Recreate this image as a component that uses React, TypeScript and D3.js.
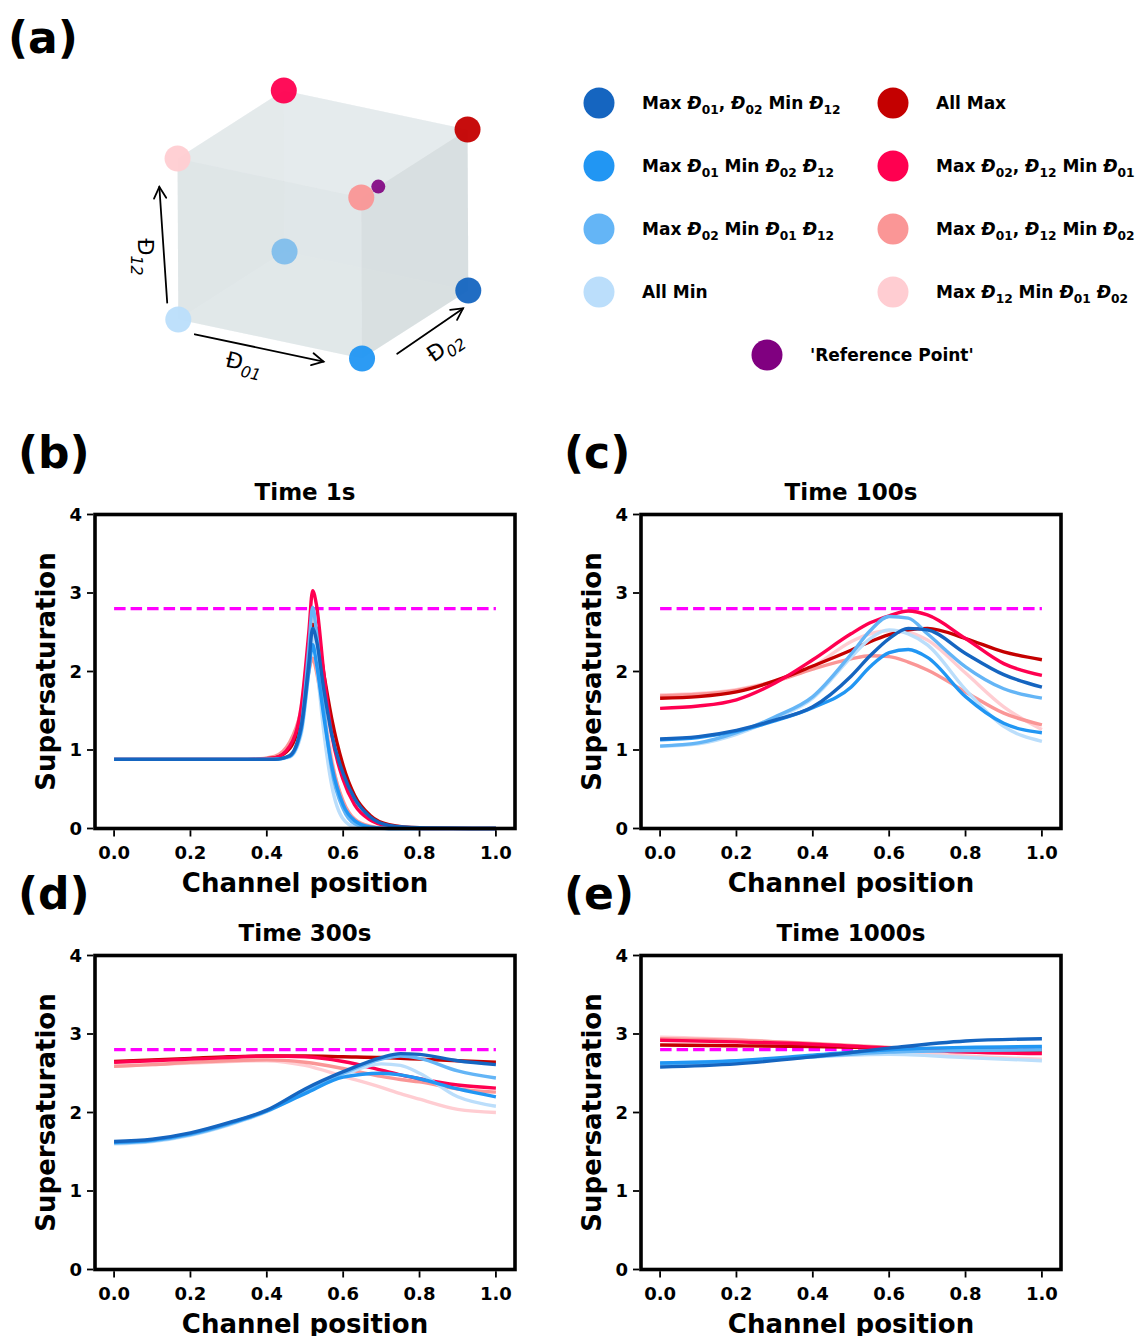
import React from 'react';
import * as d3 from 'd3';

const W = 1140;
const H = 1336;
const FONT = "'DejaVu Sans', sans-serif";

// legend labels, Đ_{nn} is drawn as Đ with subscript
const SERIES = [
  'Max Đ_{01}, Đ_{02} Min Đ_{12}',
  'Max Đ_{01} Min Đ_{02} Đ_{12}',
  'Max Đ_{02} Min Đ_{01} Đ_{12}',
  'All Min',
  'All Max',
  'Max Đ_{02}, Đ_{12} Min Đ_{01}',
  'Max Đ_{01}, Đ_{12} Min Đ_{02}',
  'Max Đ_{12} Min Đ_{01} Đ_{02}',
];
const COLORS = ['#1565C0', '#2196F3', '#64B5F6', '#BBDEFB', '#C40000', '#FF0050', '#FA9696', '#FFCDD2'];
// corner of the cube for each series: [Đ01, Đ02, Đ12]
const CORNERS = [[1, 1, 0], [1, 0, 0], [0, 1, 0], [0, 0, 0], [1, 1, 1], [0, 1, 1], [1, 0, 1], [0, 0, 1]];
const REF_POINT = [1, 0.16, 1];
const REF_LABEL = "'Reference Point'";
const THRESHOLD = 2.8;
// order the curves are drawn in (last on top)
const DRAW_ORDER = [7, 6, 4, 5, 3, 2, 1, 0];

// Time 1s
const X_1S = [0, 0.35, 0.42, 0.46, 0.49, 0.51, 0.52, 0.53, 0.55, 0.57, 0.6, 0.63, 0.67, 0.72, 0.8, 1.0];
const Y_1S = [
  [0.88, 0.88, 0.88, 0.93, 1.3, 2.1, 2.55, 2.4, 1.75, 1.2, 0.7, 0.38, 0.15, 0.04, 0.01, 0],
  [0.88, 0.88, 0.88, 0.92, 1.25, 2.0, 2.34, 2.1, 1.4, 0.8, 0.3, 0.1, 0.02, 0, 0, 0],
  [0.88, 0.88, 0.88, 0.92, 1.3, 2.3, 2.82, 2.5, 1.5, 0.75, 0.25, 0.06, 0.01, 0, 0, 0],
  [0.88, 0.88, 0.88, 0.91, 1.2, 2.0, 2.45, 2.1, 1.2, 0.55, 0.12, 0.02, 0, 0, 0, 0],
  [0.88, 0.88, 0.9, 1.02, 1.45, 2.2, 2.6, 2.55, 1.95, 1.4, 0.8, 0.42, 0.17, 0.05, 0.01, 0],
  [0.88, 0.88, 0.9, 1.05, 1.55, 2.5, 3.03, 2.85, 1.95, 1.2, 0.62, 0.3, 0.11, 0.03, 0, 0],
  [0.88, 0.88, 0.92, 1.1, 1.5, 2.0, 2.17, 2.0, 1.4, 0.85, 0.35, 0.12, 0.03, 0, 0, 0],
  [0.88, 0.88, 0.91, 1.08, 1.55, 2.35, 2.7, 2.45, 1.6, 0.9, 0.3, 0.08, 0.01, 0, 0, 0],
];

// Time 100s
const X_100S = [0, 0.1, 0.2, 0.3, 0.4, 0.5, 0.55, 0.6, 0.65, 0.7, 0.8, 0.9, 1.0];
const Y_100S = [
  [1.14, 1.17, 1.25, 1.38, 1.55, 1.94, 2.2, 2.42, 2.55, 2.53, 2.23, 1.96, 1.8],
  [1.13, 1.16, 1.24, 1.37, 1.54, 1.8, 2.06, 2.24, 2.28, 2.18, 1.68, 1.34, 1.22],
  [1.05, 1.09, 1.22, 1.42, 1.68, 2.22, 2.52, 2.7, 2.68, 2.48, 2.06, 1.78, 1.66],
  [1.05, 1.08, 1.2, 1.4, 1.66, 2.18, 2.42, 2.53, 2.48, 2.34, 1.77, 1.3, 1.11],
  [1.66, 1.68, 1.74, 1.88, 2.07, 2.27, 2.38, 2.47, 2.53, 2.55, 2.42, 2.25, 2.15],
  [1.53, 1.56, 1.64, 1.85, 2.15, 2.48, 2.62, 2.71, 2.77, 2.72, 2.42, 2.1, 1.95],
  [1.69, 1.71, 1.76, 1.87, 2.03, 2.16, 2.2, 2.19, 2.12, 2.02, 1.74, 1.47, 1.32],
  [1.7, 1.72, 1.77, 1.88, 2.06, 2.38, 2.48, 2.52, 2.5, 2.4, 1.98, 1.55, 1.26],
];

// Time 300s
const X_300S = [0, 0.1, 0.2, 0.3, 0.4, 0.5, 0.6, 0.7, 0.75, 0.8, 0.9, 1.0];
const Y_300S = [
  [1.63, 1.66, 1.74, 1.87, 2.03, 2.3, 2.52, 2.7, 2.75, 2.74, 2.66, 2.61],
  [1.62, 1.65, 1.73, 1.86, 2.02, 2.24, 2.45, 2.5, 2.48, 2.43, 2.3, 2.2],
  [1.61, 1.64, 1.72, 1.85, 2.02, 2.28, 2.5, 2.68, 2.72, 2.69, 2.53, 2.44],
  [1.6, 1.63, 1.71, 1.84, 2.01, 2.27, 2.48, 2.62, 2.6, 2.5, 2.2, 2.08],
  [2.65, 2.67, 2.69, 2.71, 2.72, 2.72, 2.71, 2.7, 2.69, 2.68, 2.66, 2.64],
  [2.64, 2.66, 2.68, 2.7, 2.72, 2.71, 2.65, 2.54, 2.48, 2.43, 2.35, 2.31],
  [2.59, 2.61, 2.64, 2.66, 2.67, 2.64, 2.56, 2.46, 2.42, 2.39, 2.3, 2.26],
  [2.59, 2.61, 2.63, 2.65, 2.66, 2.6, 2.46, 2.32, 2.24, 2.17, 2.04, 2.0],
];

// Time 1000s
const X_1000S = [0, 0.2, 0.4, 0.6, 0.8, 1.0];
const Y_1000S = [
  [2.58, 2.62, 2.71, 2.82, 2.91, 2.94],
  [2.63, 2.66, 2.73, 2.8, 2.83, 2.84],
  [2.62, 2.65, 2.71, 2.77, 2.79, 2.8],
  [2.63, 2.66, 2.71, 2.74, 2.7, 2.66],
  [2.86, 2.85, 2.84, 2.82, 2.8, 2.79],
  [2.92, 2.9, 2.87, 2.82, 2.77, 2.75],
  [2.94, 2.92, 2.88, 2.83, 2.8, 2.79],
  [2.96, 2.93, 2.87, 2.8, 2.72, 2.68],
];

const X_TICKS = [0, 0.2, 0.4, 0.6, 0.8, 1.0];
const Y_TICKS = [0, 1, 2, 3, 4];

const PANELS = [
  { label: '(b)', title: 'Time 1s', xs: X_1S, ys: Y_1S, left: 95, top: 514.5 },
  { label: '(c)', title: 'Time 100s', xs: X_100S, ys: Y_100S, left: 641, top: 514.5 },
  { label: '(d)', title: 'Time 300s', xs: X_300S, ys: Y_300S, left: 95, top: 955.5 },
  { label: '(e)', title: 'Time 1000s', xs: X_1000S, ys: Y_1000S, left: 641, top: 955.5 },
];
const PW = 420;
const PH = 314;

// text with Đ_{nn} subscripts
function MathText({ text, size, italicSymbol, italicSub, ...rest }: any) {
  const parts = text.split(/(Đ_\{\d+\})/).filter((p: string) => p.length);
  const shift = size * 0.28;
  const nodes: any[] = [];
  let shifted = false;
  parts.forEach((p: string, i: number) => {
    const m = p.match(/^Đ_\{(\d+)\}$/);
    if (m) {
      nodes.push(
        <tspan key={i + 'a'} dy={shifted ? -shift : 0} fontStyle={italicSymbol ? 'italic' : 'normal'}>Đ</tspan>
      );
      nodes.push(
        <tspan key={i + 'b'} dy={shift} fontSize={size * 0.72} fontStyle={italicSub ? 'italic' : 'normal'}>{m[1]}</tspan>
      );
      shifted = true;
    } else {
      nodes.push(<tspan key={i} dy={shifted ? -shift : 0}>{p}</tspan>);
      shifted = false;
    }
  });
  return (
    <text fontSize={size} fontFamily={FONT} style={{ whiteSpace: 'pre' }} {...rest}>
      {nodes}
    </text>
  );
}

// ---- cube (panel a) ----
const ORIGIN = [178.3, 319.5];
const EX = [183.75, 39];
const EY = [106.25, -68];
const EZ = [-0.75, -161];

function proj(p: number[]) {
  return [
    ORIGIN[0] + p[0] * EX[0] + p[1] * EY[0] + p[2] * EZ[0],
    ORIGIN[1] + p[0] * EX[1] + p[1] * EY[1] + p[2] * EZ[1],
  ];
}

function face(axis: number, v: number) {
  const a = (axis + 1) % 3;
  const b = (axis + 2) % 3;
  const pts = [[0, 0], [1, 0], [1, 1], [0, 1]].map(([s, t]) => {
    const p = [0, 0, 0];
    p[axis] = v;
    p[a] = s;
    p[b] = t;
    return proj(p);
  });
  return 'M' + pts.map((q) => q.join(',')).join('L') + 'Z';
}

const BACK_FACES = [
  { axis: 1, v: 1, fill: '#c4d1d4' },
  { axis: 0, v: 0, fill: '#bccacd' },
  { axis: 2, v: 0, fill: '#c8d5d8' },
];
const FRONT_FACES = [
  { axis: 1, v: 0, fill: '#c4d1d4' },
  { axis: 0, v: 1, fill: '#a8b5b8' },
  { axis: 2, v: 1, fill: '#d3dfe1' },
];

const ARROWS = [
  { from: [0.09, 0, -0.07], to: [0.79, 0, -0.07], text: 'Đ_{01}', at: [0.25, 0, -0.23], rot: 13 },
  { from: [1, 0.33, -0.11], to: [1, 0.95, -0.09], text: 'Đ_{02}', at: [1, 0.67, -0.31], rot: -35 },
  { from: [-0.06, 0, 0.09], to: [-0.1, 0, 0.8], text: 'Đ_{12}', at: [-0.22, 0, 0.45], rot: 90 },
];

function Arrow({ from, to }: any) {
  const [x1, y1] = proj(from);
  const [x2, y2] = proj(to);
  const ang = Math.atan2(y2 - y1, x2 - x1);
  const L = 13;
  const th = (28 * Math.PI) / 180;
  const h1 = [x2 - L * Math.cos(ang - th), y2 - L * Math.sin(ang - th)];
  const h2 = [x2 - L * Math.cos(ang + th), y2 - L * Math.sin(ang + th)];
  return (
    <g stroke="#000" strokeWidth={1.8} fill="none" strokeLinecap="round">
      <line x1={x1} y1={y1} x2={x2} y2={y2} />
      <path d={`M${h1[0]},${h1[1]}L${x2},${y2}L${h2[0]},${h2[1]}`} />
    </g>
  );
}

function Cube() {
  const isBack = (c: number[]) => c[0] === 0 && c[1] === 1 && c[2] === 0;
  const pts = CORNERS.map((c, i) => ({ c, i }));
  const back = pts.filter(({ c }) => isBack(c));
  const front = pts.filter(({ c }) => !isBack(c)).sort((a, b) => b.c[1] - a.c[1]);
  const ref = proj(REF_POINT);
  return (
    <g>
      {BACK_FACES.map((f, i) => (
        <path key={'bf' + i} d={face(f.axis, f.v)} fill={f.fill} fillOpacity={0.3} />
      ))}
      {back.map(({ c, i }) => {
        const [x, y] = proj(c);
        return <circle key={'bp' + i} cx={x} cy={y} r={13} fill={COLORS[i]} fillOpacity={0.95} />;
      })}
      {FRONT_FACES.map((f, i) => (
        <path key={'ff' + i} d={face(f.axis, f.v)} fill={f.fill} fillOpacity={0.3} />
      ))}
      <circle cx={ref[0]} cy={ref[1]} r={7} fill="#800080" fillOpacity={0.9} />
      {front.map(({ c, i }) => {
        const [x, y] = proj(c);
        return <circle key={'fp' + i} cx={x} cy={y} r={13} fill={COLORS[i]} fillOpacity={0.95} />;
      })}
      {ARROWS.map((a, i) => {
        const [lx, ly] = proj(a.at);
        return (
          <g key={'ar' + i}>
            <Arrow from={a.from} to={a.to} />
            <MathText text={a.text} size={22} italicSub transform={`translate(${lx},${ly}) rotate(${a.rot})`} fill="#000" />
          </g>
        );
      })}
    </g>
  );
}

function Legend() {
  const colX = [599, 893];
  const rowY = [103, 166, 229, 292];
  return (
    <g>
      {SERIES.map((s, i) => {
        const cx = colX[Math.floor(i / 4)];
        const cy = rowY[i % 4];
        return (
          <g key={i}>
            <circle cx={cx} cy={cy} r={15.5} fill={COLORS[i]} />
            <MathText text={s} size={17} italicSymbol x={cx + 43} y={cy + 6} fontWeight="bold" fill="#000" />
          </g>
        );
      })}
      <circle cx={767} cy={355} r={15.5} fill="#800080" />
      <text x={810} y={361} fontSize={17} fontWeight="bold" fontFamily={FONT}>{REF_LABEL}</text>
    </g>
  );
}

function Panel({ p }: any) {
  const x = d3.scaleLinear().domain([-0.05, 1.05]).range([p.left, p.left + PW]);
  const y = d3.scaleLinear().domain([0, 4]).range([p.top + PH, p.top]);
  const line = d3
    .line<number>()
    .x((_, i) => x(p.xs[i]))
    .y((d) => y(d))
    .curve(d3.curveMonotoneX);
  const bottom = p.top + PH;
  return (
    <g>
      <text x={p.left - 77} y={p.top - 46.5} fontSize={44} fontWeight="bold" fontFamily={FONT}>{p.label}</text>
      <text x={p.left + PW / 2} y={p.top - 14.5} fontSize={23} fontWeight="bold" fontFamily={FONT} textAnchor="middle">
        {p.title}
      </text>
      <line
        x1={x(0)}
        x2={x(1)}
        y1={y(THRESHOLD)}
        y2={y(THRESHOLD)}
        stroke="#FF00FF"
        strokeWidth={3.3}
        strokeDasharray="11.5 5"
      />
      {DRAW_ORDER.map((k) => (
        <path key={k} d={line(p.ys[k]) || ''} fill="none" stroke={COLORS[k]} strokeWidth={3.4} strokeLinejoin="round" />
      ))}
      <rect x={p.left} y={p.top} width={PW} height={PH} fill="none" stroke="#000" strokeWidth={3.6} />
      {X_TICKS.map((t) => (
        <g key={'x' + t}>
          <line x1={x(t)} x2={x(t)} y1={bottom + 1.8} y2={bottom + 8} stroke="#000" strokeWidth={1.8} />
          <text x={x(t)} y={bottom + 30} fontSize={18} fontWeight="bold" fontFamily={FONT} textAnchor="middle">
            {d3.format('.1f')(t)}
          </text>
        </g>
      ))}
      {Y_TICKS.map((t) => (
        <g key={'y' + t}>
          <line x1={p.left - 1.8} x2={p.left - 8} y1={y(t)} y2={y(t)} stroke="#000" strokeWidth={1.8} />
          <text x={p.left - 13} y={y(t)} dy="0.36em" fontSize={18} fontWeight="bold" fontFamily={FONT} textAnchor="end">
            {t}
          </text>
        </g>
      ))}
      <text x={p.left + PW / 2} y={bottom + 63} fontSize={26} fontWeight="bold" fontFamily={FONT} textAnchor="middle">
        Channel position
      </text>
      <text
        transform={`translate(${p.left - 40},${p.top + PH / 2}) rotate(-90)`}
        fontSize={26}
        fontWeight="bold"
        fontFamily={FONT}
        textAnchor="middle"
      >
        Supersaturation
      </text>
    </g>
  );
}

export default function App() {
  return (
    <svg
      width={W}
      height={H}
      viewBox={`0 0 ${W} ${H}`}
      style={{ position: 'absolute', left: 0, top: 0, background: '#fff' }}
    >
      <rect width={W} height={H} fill="#fff" />
      <text x={8} y={53} fontSize={44} fontWeight="bold" fontFamily={FONT}>(a)</text>
      <Cube />
      <Legend />
      {PANELS.map((p) => (
        <Panel key={p.label} p={p} />
      ))}
    </svg>
  );
}
